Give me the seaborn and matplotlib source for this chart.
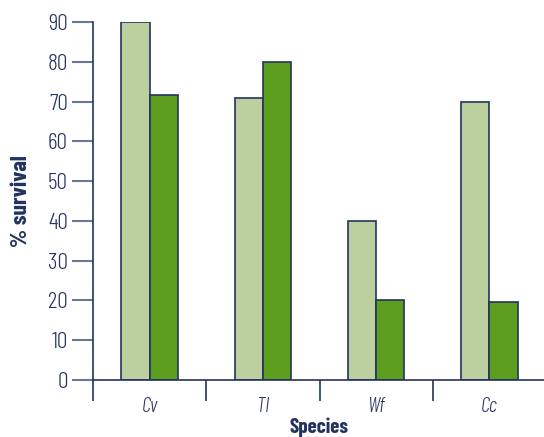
import pandas as pd
import matplotlib.pyplot as plt
import seaborn as sns
from matplotlib.ticker import FixedLocator

species = ['Cv', 'Tl', 'Wf', 'Cc']
first_group = [90, 71, 40, 70]
second_group = [71.6, 79.9, 20.2, 19.7]

df = pd.DataFrame({
    'Species': species * 2,
    'Group': ['first'] * 4 + ['second'] * 4,
    'Survival': first_group + second_group,
})

navy = '#22335f'
tickgrey = '#6a7898'

sns.set_style('white')
plt.rcParams['font.family'] = ['Barlow Condensed', 'DejaVu Sans']

fig = plt.figure(figsize=(5.44, 4.37), dpi=100)
ax = fig.add_axes([93 / 544, 57 / 437, 453 / 544, 358 / 437])

sns.barplot(data=df, x='Species', y='Survival', hue='Group',
            palette=['#bbd09e', '#5e9e1e'], width=0.5, saturation=1,
            edgecolor=navy, linewidth=1.2, legend=False, ax=ax)

ax.set_ylim(0, 90)
ax.set_xlim(-0.5, 3.5)
ax.set_yticks(range(0, 91, 10))
ax.tick_params(axis='y', left=True, length=15, width=1.5, color=tickgrey, direction='out',
               labelsize=17, labelcolor=navy, pad=3)
ax.tick_params(axis='x', which='major', bottom=False, length=0, labelsize=15,
               labelcolor=navy, pad=12)
ax.xaxis.set_minor_locator(FixedLocator([-0.5, 0.5, 1.5, 2.5]))
ax.tick_params(axis='x', which='minor', bottom=True, length=15, width=1.2, color=navy,
               direction='out')
for lab in ax.get_yticklabels():
    lab.set_fontweight(300)
for lab in ax.get_xticklabels():
    lab.set_style('italic')
    lab.set_fontweight(300)

for side in ['top', 'right']:
    ax.spines[side].set_visible(False)
for side in ['left', 'bottom']:
    ax.spines[side].set_color(navy)
    ax.spines[side].set_linewidth(1.2)

ax.set_xlabel('Species', fontsize=15, fontweight='bold', color=navy, labelpad=1)
ax.set_ylabel('% survival', fontsize=17, fontweight='bold', color=navy, labelpad=12)

fig.savefig('out.png', dpi=100)
